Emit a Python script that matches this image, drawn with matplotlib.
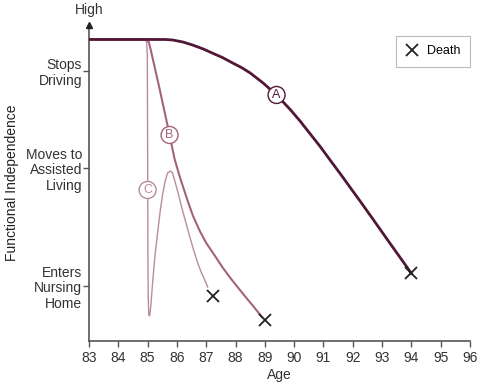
import matplotlib.pyplot as plt

plt.rcParams['font.family'] = ['Liberation Sans', 'DejaVu Sans']

# levels are measured upward from the age axis
age_a = [83, 85.6, 85.85, 86.2, 86.53, 86.9, 87.2, 87.55, 87.9, 88.2, 88.5, 88.94, 89.4,
         89.88, 90.2, 90.55, 90.9, 91.25, 91.58, 91.9, 92.26, 92.6, 92.95, 93.25, 93.53, 93.87, 94.0]
lvl_a = [301.5, 301.5, 301, 299, 296, 292, 288, 283.5, 278, 273.5, 268, 258, 246,
         231, 220, 207, 194, 180, 167, 154, 139.5, 125.5, 111, 98.5, 87, 73, 67.5]

age_b = [83, 84.97, 85.04, 85.1, 85.24, 85.41, 85.58, 85.75, 85.92, 86.1, 86.2, 86.38,
         86.55, 86.78, 87.0, 87.3, 87.57, 87.85, 88.15, 88.4, 88.6, 88.9]
lvl_b = [301.5, 301.5, 299, 292, 274, 252, 229, 206, 182, 164, 155, 139,
         125, 110, 98, 85, 73, 62, 51, 42, 35, 24]

age_c = [83, 84.92, 84.97, 84.99, 85.0, 85.01, 85.02, 85.04, 85.07, 85.11, 85.17, 85.25, 85.34,
         85.43, 85.52, 85.6, 85.68, 85.78, 85.85, 85.92, 86.04, 86.16, 86.3, 86.44, 86.58,
         86.71, 86.84, 86.95, 87.05]
lvl_c = [301.5, 301.5, 298, 285, 200, 90, 45, 26, 25, 35, 58, 85, 108,
         130, 148, 160, 168, 170, 168, 161, 148, 134, 119, 104, 90,
         78, 68, 61, 54]

death_age = [87.23, 89.0, 94.0]
death_lvl = [45, 21, 68]

ytick_lvls = [270, 173, 55]
ytick_labels = ['Stops\nDriving', 'Moves to\nAssisted\nLiving', 'Enters\nNursing\nHome']
xticks = list(range(83, 97))

col_a = '#521736'
col_b = '#a3637c'
col_c = '#b98c9d'
axis_col = '#555555'

fig = plt.figure(figsize=(4.8, 3.86), dpi=100)
ax = fig.add_axes([0.1854, 0.1166, 0.79375, 0.8187])

ax.plot(age_c, lvl_c, color=col_c, lw=1.0, zorder=2, solid_joinstyle='round')
ax.plot(age_b, lvl_b, color=col_b, lw=1.5, zorder=3, solid_joinstyle='round')
ax.plot(age_a, lvl_a, color=col_a, lw=2.0, zorder=4, solid_joinstyle='round')

ax.plot(death_age, death_lvl, linestyle='none', marker='x', color='#222222',
        markersize=8, markeredgewidth=1.3, zorder=5, label='Death')

# circled curve labels
for lab, x, y, c in [('A', 89.4, 246, col_a), ('B', 85.75, 206, col_b), ('C', 85.0, 151, col_c)]:
    ax.text(x, y, lab, ha='center', va='center', fontsize=9, color=c, zorder=6,
            bbox=dict(boxstyle='circle,pad=0.2', fc='white', ec=c, lw=1.0))

ax.set_xlim(83, 96)
ax.set_ylim(0, 316)
ax.set_xticks(xticks)
ax.set_yticks(ytick_lvls)
ax.set_yticklabels(ytick_labels, ha='right', linespacing=1.15)
ax.tick_params(axis='both', colors=axis_col, labelcolor='#333333', labelsize=10,
               length=4, width=1.0)
ax.tick_params(axis='y', pad=1)

for s in ['top', 'right']:
    ax.spines[s].set_visible(False)
for s in ['left', 'bottom']:
    ax.spines[s].set_color(axis_col)
    ax.spines[s].set_linewidth(1.2)

# arrow head on the y axis
ax.plot(83, 1, marker='^', color='#222222', markersize=5, clip_on=False,
        transform=ax.get_xaxis_transform(), zorder=6)
fig.text(89 / 480, 1 - 10 / 386, 'High', ha='center', va='center', fontsize=10, color='#333333')

ax.set_xlabel('Age', fontsize=10, color='#333333', labelpad=2)
fig.text(12 / 480, 1 - 183 / 386, 'Functional Independence', rotation=90,
         ha='center', va='center', fontsize=10, color='#222222')

leg = ax.legend(loc='upper right', bbox_to_anchor=(1.0, 0.965), fontsize=9,
                handlelength=1.0, handletextpad=0.7, borderpad=0.75, borderaxespad=0,
                fancybox=False)
leg.get_frame().set_edgecolor('#aaaaaa')
leg.get_frame().set_linewidth(0.8)

plt.savefig('out.png', dpi=100)
